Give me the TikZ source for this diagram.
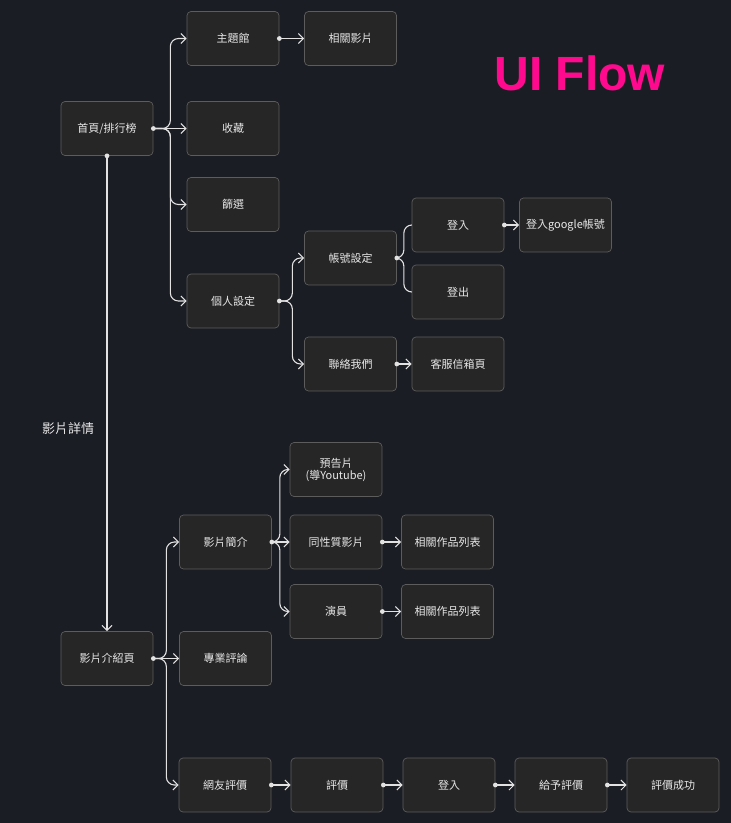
\documentclass[tikz,border=0pt]{standalone}
\usepackage{fontspec}
\newfontfamily\cjk{Noto Sans CJK TC}
\newfontfamily\titlefont{Liberation Sans}
\usetikzlibrary{arrows.meta}
\definecolor{bgc}{HTML}{1B1D24}
\definecolor{boxfill}{HTML}{262626}
\definecolor{boxline}{HTML}{5C5C5C}
\definecolor{txtc}{HTML}{E8E8E8}
\definecolor{linec}{HTML}{E2E2E2}
\definecolor{pinkc}{HTML}{FF0A8E}
\tikzset{
  box/.style={draw=boxline, fill=boxfill, rounded corners=4pt, line width=0.7pt,
    minimum width=92pt, minimum height=54pt, inner sep=0pt, text=txtc,
    align=center, font=\cjk\fontsize{11}{12}\selectfont},
  conn/.style={draw=linec, line width=1.1pt, rounded corners=8pt,
    -{Straight Barb[length=5pt,width=10pt,line width=1pt]}},
  plain/.style={draw=linec, line width=1.1pt, rounded corners=8pt},
  dotc/.style={fill=linec}
}
\begin{document}
\begin{tikzpicture}[x=1pt,y=-1pt]
\fill[bgc] (0,0) rectangle (731,823);
\useasboundingbox (0,0) rectangle (731,823);

\node[text=pinkc, font=\titlefont\bfseries\fontsize{48}{50}\selectfont, anchor=center] (title) at (580,73) {UI Flow};

% top section
\node[box] (home) at (107,128.5) {首頁/排行榜};
\node[box] (theme) at (233,38.5) {主題館};
\node[box] (related) at (350.5,38.5) {相關影片};
\node[box] (collect) at (233,128.5) {收藏};
\node[box] (filter) at (233,204.5) {篩選};
\node[box] (personal) at (233,301) {個人設定};
\node[box] (account) at (350.5,258) {帳號設定};
\node[box] (login) at (458,225) {登入};
\node[box] (google) at (565.5,225) {登入google帳號};
\node[box] (logout) at (458,292) {登出};
\node[box] (contact) at (350.5,364) {聯絡我們};
\node[box] (mail) at (458,364) {客服信箱頁};

% lower section
\node[box] (intro) at (107,658.5) {影片介紹頁};
\node[box] (brief) at (225.5,542) {影片簡介};
\node[box] (review) at (225.5,658.5) {專業評論};
\node[box] (trailer) at (336,469.5) {預告片\\(導Youtube)};
\node[box] (similar) at (336,542) {同性質影片};
\node[box] (works1) at (447.5,542) {相關作品列表};
\node[box] (actor) at (336,611.5) {演員};
\node[box] (works2) at (447.5,611.5) {相關作品列表};
\node[box] (netizen) at (225,785) {網友評價};
\node[box] (rate) at (337,785) {評價};
\node[box] (login2) at (449,785) {登入};
\node[box] (give) at (561,785) {給予評價};
\node[box] (success) at (673,785) {評價成功};

\node[text=txtc, font=\cjk\fontsize{13}{14}\selectfont] (detail) at (68,429) {影片詳情};

% connectors: home branches
\draw[conn] (home.east) -- ++(17,0) |- (theme.west);
\draw[conn] (home.east) -- (collect.west);
\draw[conn] (home.east) -- ++(17,0) |- (filter.west);
\draw[conn] (home.east) -- ++(17,0) |- (personal.west);
\fill[dotc] (home.east) circle (2.4pt);

\draw[conn] (theme.east) -- (related.west);
\fill[dotc] (theme.east) circle (2.4pt);

\draw[conn] (personal.east) -- ++(13,0) |- (account.west);
\draw[conn] (personal.east) -- ++(13,0) |- (contact.west);
\fill[dotc] (personal.east) circle (2.4pt);

\draw[plain] (account.east) -- ++(7,0) |- (login.west);
\draw[plain] (account.east) -- ++(7,0) |- (logout.west);
\fill[dotc] (account.east) circle (2.4pt);

\draw[conn] (login.east) -- (google.west);
\fill[dotc] (login.east) circle (2.4pt);

\draw[conn] (contact.east) -- (mail.west);
\fill[dotc] (contact.east) circle (2.4pt);

\draw[conn] (home.south) -- (intro.north);
\fill[dotc] (home.south) circle (2.4pt);

% intro branches
\draw[conn] (intro.east) -- ++(13,0) |- (brief.west);
\draw[conn] (intro.east) -- (review.west);
\draw[conn] (intro.east) -- ++(13,0) |- (netizen.west);
\fill[dotc] (intro.east) circle (2.4pt);

\draw[conn] (brief.east) -- ++(8,0) |- (trailer.west);
\draw[conn] (brief.east) -- (similar.west);
\draw[conn] (brief.east) -- ++(8,0) |- (actor.west);
\fill[dotc] (brief.east) circle (2.4pt);

\draw[conn] (similar.east) -- (works1.west);
\fill[dotc] (similar.east) circle (2.4pt);
\draw[conn] (actor.east) -- (works2.west);
\fill[dotc] (actor.east) circle (2.4pt);

\draw[conn] (netizen.east) -- (rate.west);
\fill[dotc] (netizen.east) circle (2.4pt);
\draw[conn] (rate.east) -- (login2.west);
\fill[dotc] (rate.east) circle (2.4pt);
\draw[conn] (login2.east) -- (give.west);
\fill[dotc] (login2.east) circle (2.4pt);
\draw[conn] (give.east) -- (success.west);
\fill[dotc] (give.east) circle (2.4pt);
\end{tikzpicture}
\end{document}
